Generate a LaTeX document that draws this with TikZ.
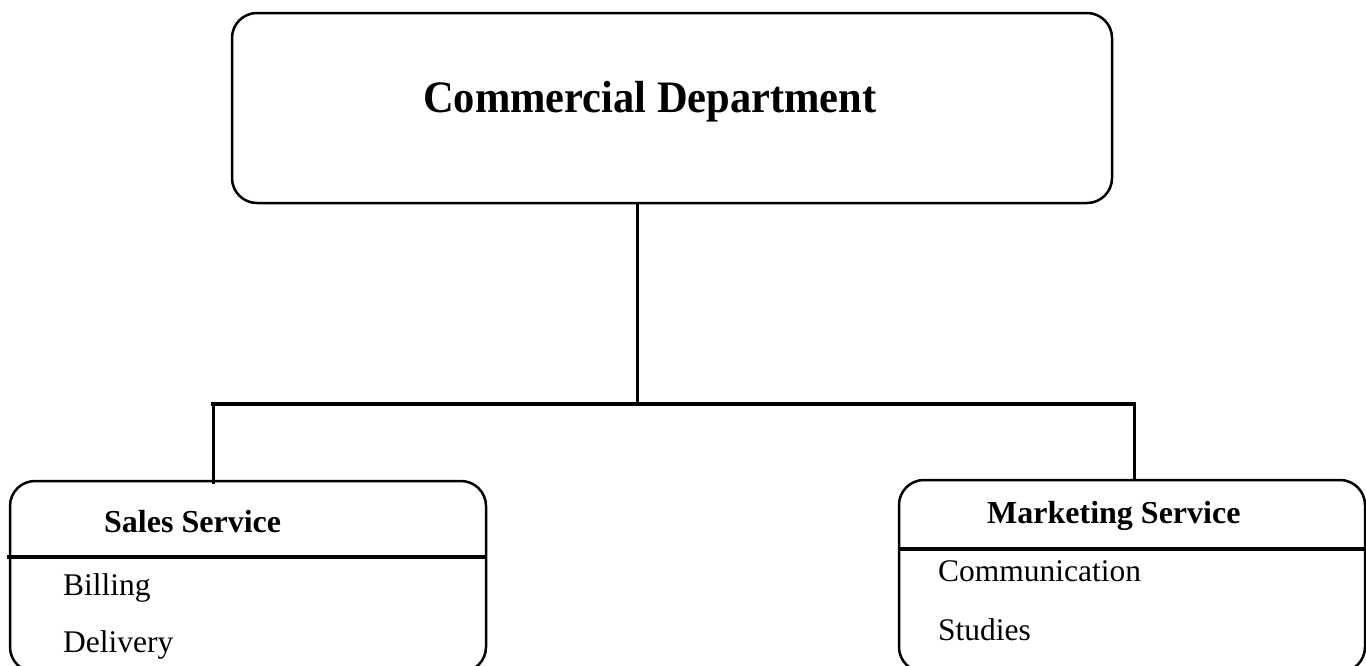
\documentclass[tikz,border=0pt]{standalone}
\usepackage{fontspec}
\setmainfont{Liberation Serif}
\begin{document}
\begin{tikzpicture}[x=1pt,y=-1pt,
  box/.style={draw,line width=2.5pt,rounded corners=25pt,inner sep=0pt},
  rule/.style={line width=3.5pt},
  link/.style={line width=3pt},
  bus/.style={line width=4pt},
  head/.style={anchor=base west,inner sep=0pt,font=\fontsize{32}{38}\selectfont\bfseries},
  item/.style={anchor=base west,inner sep=0pt,font=\fontsize{31.5}{38}\selectfont},
]
\useasboundingbox (0,0) rectangle (1366,665);
\begin{scope}
\clip (0,0) rectangle (1366,665);

% top level
\node[box,minimum width=880pt,minimum height=190pt] (dept) at (672,108) {};
\node[anchor=base west,inner sep=0pt,font=\fontsize{45}{54}\selectfont\bfseries]
  (deptlabel) at (423,112) {\scalebox{0.944}[1]{Commercial Department}};

% services (their lower edges run past the page)
\node[box,minimum width=476pt,minimum height=191pt] (sales) at (248,576.5) {};
\node[box,minimum width=466pt,minimum height=192pt] (mkt) at (1132,576) {};

\draw[rule] (7,557) -- (sales.east |- 0,557);
\draw[rule] (mkt.west |- 0,549) -- (1366,549);

\node[head] (saleshead) at (104,532) {Sales Service};
\node[item] (billing) at (63,595) {Billing};
\node[item] (delivery) at (63,652) {Delivery};

\node[head] (mkthead) at (987,523) {Marketing Service};
\node[item] (comm) at (938,581) {Communication};
\node[item] (studies) at (938,640) {Studies};

% connectors
\coordinate (hub) at (637,404);
\coordinate (busL) at (213,404);
\coordinate (busR) at (1134,404);
\draw[link] (dept.south -| hub) -- (hub);
\draw[bus,line cap=rect] (busL) -- (busR);
\draw[link] (busL) -- ([yshift=-4pt]sales.north -| busL);
\draw[link] (busR) -- (mkt.north -| busR);
\end{scope}
\end{tikzpicture}
\end{document}
